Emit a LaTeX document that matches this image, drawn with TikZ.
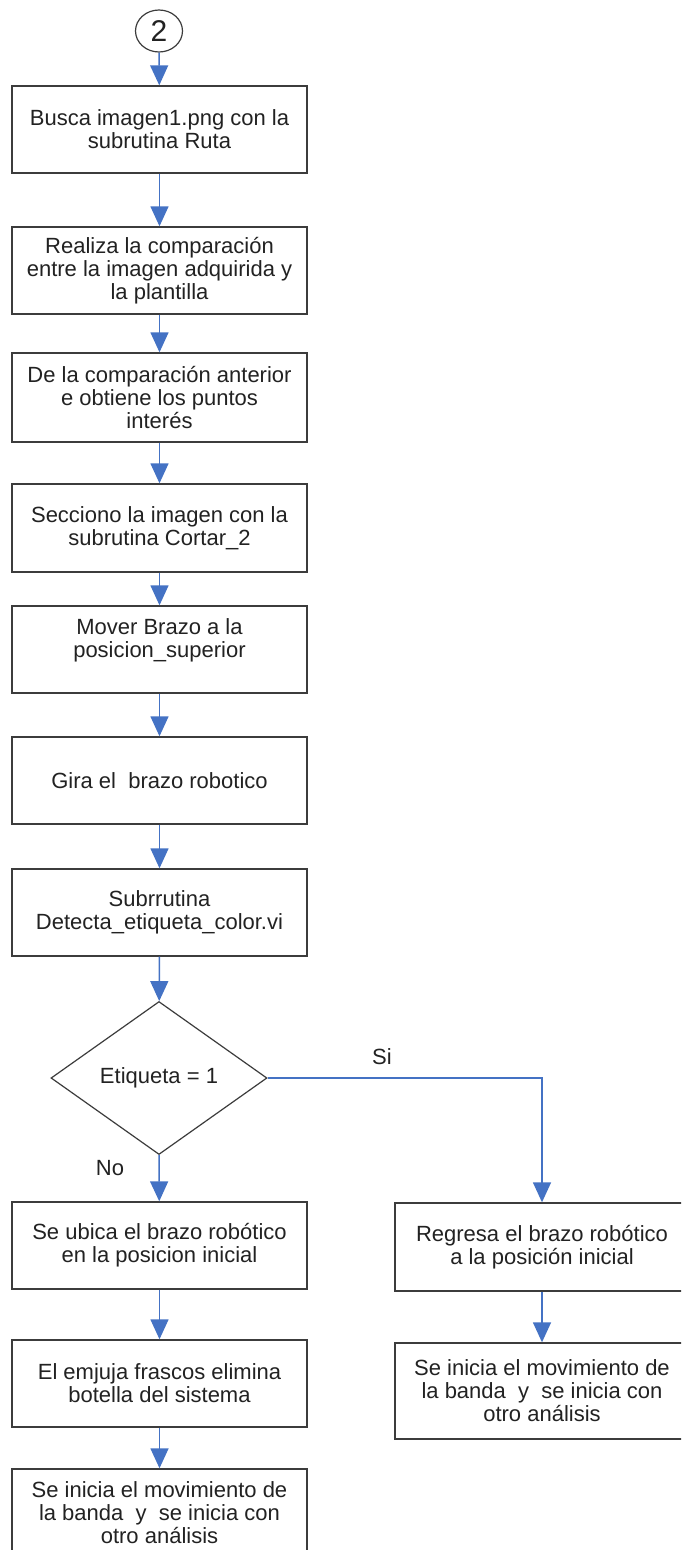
\documentclass[tikz,border=0pt]{standalone}
\usepackage{fontspec}
\setmainfont{Liberation Sans}
\usetikzlibrary{arrows.meta,shapes.geometric}
\definecolor{arrowblue}{RGB}{68,114,196}
\definecolor{boxline}{RGB}{60,60,60}
\definecolor{txt}{RGB}{34,34,34}
\tikzset{
  stepbox/.style={draw=boxline, line width=1.4pt, rectangle, minimum width=295pt, minimum height=87pt, inner sep=0pt, align=center, text=txt, font=\fontsize{22}{23}\selectfont},
  decbox/.style={draw=boxline, line width=1.2pt, diamond, aspect=1.41, minimum width=216pt, minimum height=153pt, inner sep=0pt, text=txt, font=\fontsize{22}{23}\selectfont},
  conn/.style={draw=arrowblue, line width=1.5pt},
  flow/.style={conn, -{Triangle[width=18pt,length=20pt]}},
  lbl/.style={text=txt, font=\fontsize{22}{23}\selectfont, inner sep=0pt},
}
\begin{document}
\begin{tikzpicture}[x=1pt,y=-1pt]
\useasboundingbox (0,0) rectangle (681,1550);
\clip (0,0) rectangle (681,1550);
\fill[white] (0,0) rectangle (681,1550);
\node[draw=boxline, line width=1.2pt, ellipse, minimum width=47pt, minimum height=42pt, inner sep=0pt, text=txt, font=\fontsize{30}{30}\selectfont] (c2) at (159,31) {2};
\node[stepbox] (b1) at (159.5,129.5) {Busca imagen1.png con la\\subrutina Ruta};
\node[stepbox] (b2) at (159.5,270.5) {Realiza la comparación\\entre la imagen adquirida y\\la plantilla};
\node[stepbox, minimum height=89pt] (b3) at (159.5,397.5) {De la comparación anterior\\e obtiene los puntos\\interés};
\node[stepbox, minimum height=88pt] (b4) at (159.5,528) {Secciono la imagen con la\\subrutina Cortar\_2};
\node[stepbox] (b5) at (159.5,649.5) {Mover Brazo a la\\posicion\_superior\\\mbox{}};
\node[stepbox] (b6) at (159.5,780.5) {Gira el\ \ brazo robotico};
\node[stepbox] (b7) at (159.5,912.5) {Subrrutina\\Detecta\_etiqueta\_color.vi};
\node[decbox] (d1) at (159,1078) {Etiqueta = 1};
\node[stepbox] (b8) at (159.5,1245.5) {Se ubica el brazo robótico\\en la posicion inicial};
\node[stepbox] (b9) at (159.5,1383.5) {El emjuja frascos elimina\\botella del sistema};
\node[stepbox] (b10) at (159.5,1512.5) {Se inicia el movimiento de\\la banda\ \ y\ \ se inicia con\\otro análisis};
\node[stepbox, minimum width=294pt, minimum height=88pt] (r1) at (542,1247) {Regresa el brazo robótico\\a la posición inicial};
\node[stepbox, minimum width=294pt, minimum height=96pt] (r2) at (542,1391) {Se inicia el movimiento de\\la banda\ \ y\ \ se inicia con\\otro análisis};
\coordinate (sicorner) at (542,1078);
\node[lbl] (si) at (382,1057) {Si};
\node[lbl] (no) at (110,1168) {No};
\draw[flow] (c2) -- (b1);
\draw[flow] (b1) -- (b2);
\draw[flow] (b2) -- (b3);
\draw[flow] (b3) -- (b4);
\draw[flow] (b4) -- (b5);
\draw[flow] (b5) -- (b6);
\draw[flow] (b6) -- (b7);
\draw[flow] (b7) -- (d1);
\draw[flow] (d1.south) -- (b8);
\draw[flow] (b8) -- (b9);
\draw[flow] (b9) -- (b10);
\draw[flow] (d1.east) -- (sicorner) -- (r1.north);
\draw[flow] (r1) -- (r2);
\end{tikzpicture}
\end{document}
